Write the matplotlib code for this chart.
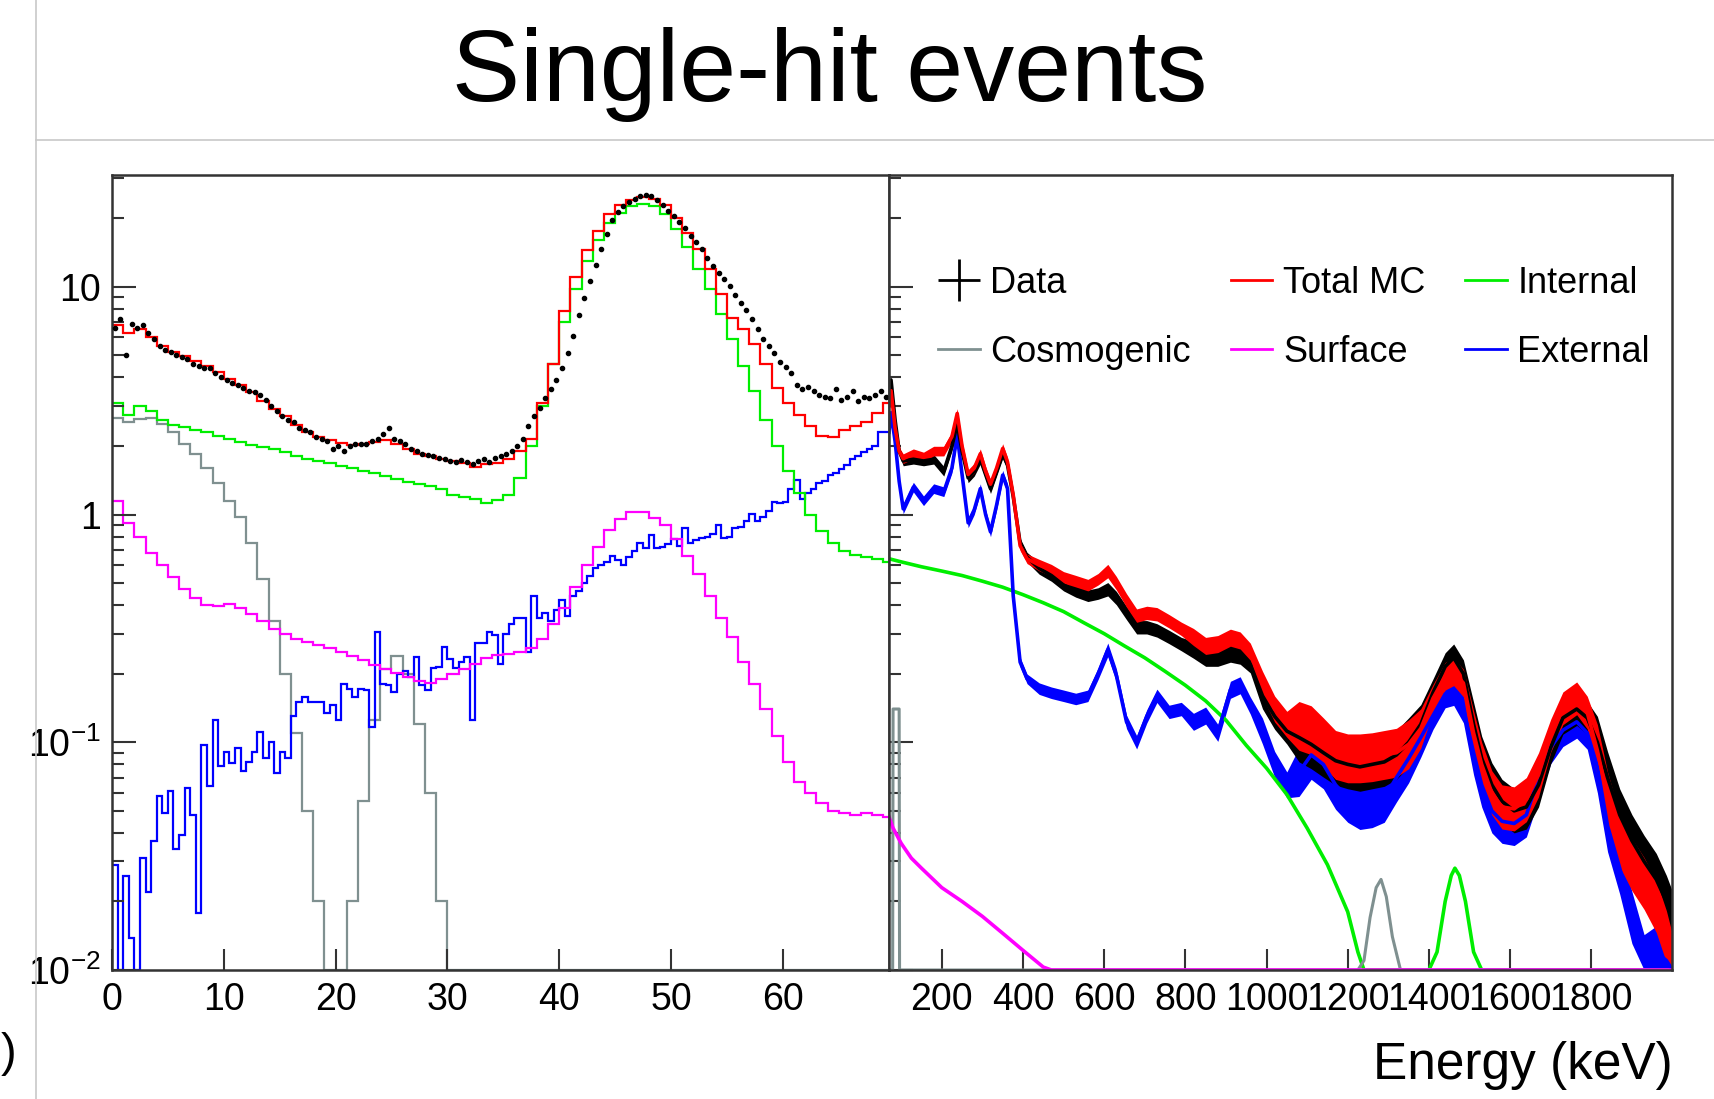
import numpy as np
import matplotlib
matplotlib.use("Agg")
import matplotlib.pyplot as plt
from matplotlib.lines import Line2D

plt.rcParams['font.family'] = ['Liberation Sans', 'DejaVu Sans']
plt.rcParams['mathtext.fontset'] = 'custom'
plt.rcParams['mathtext.rm'] = 'Liberation Sans'
plt.rcParams['mathtext.it'] = 'Liberation Sans:italic'
plt.rcParams['mathtext.default'] = 'regular'

YMIN, YMAX = 0.01, 31

# ---------------- left panel (0 - 69.5 keV) ----------------
# 1 keV bins: 0-1, 1-2, ..., 68-69, 69-69.5
total_mc_lo = [6.8, 6.3, 6.5, 6.0, 5.5, 5.2, 4.95, 4.75, 4.5, 4.25,
               3.95, 3.7, 3.45, 3.15, 2.92, 2.7, 2.48, 2.3, 2.2, 2.12,
               2.07, 2.02, 2.05, 2.09, 2.12, 2.05, 1.95, 1.85, 1.8, 1.76,
               1.72, 1.68, 1.62, 1.66, 1.68, 1.75, 1.9, 2.15, 3.1, 4.6,
               7.8, 11.0, 14.5, 17.6, 20.8, 23.0, 24.0, 24.7, 24.3, 23.0,
               20.0, 17.3, 14.6, 12.0, 9.3, 7.3, 6.5, 5.6, 4.6, 3.6,
               3.1, 2.75, 2.45, 2.22, 2.2, 2.35, 2.45, 2.55, 2.8, 3.1]
internal_lo = [3.1, 2.75, 3.0, 2.85, 2.6, 2.48, 2.42, 2.36, 2.3, 2.22,
               2.15, 2.08, 2.03, 1.98, 1.94, 1.88, 1.8, 1.76, 1.72, 1.68,
               1.64, 1.6, 1.56, 1.53, 1.48, 1.44, 1.39, 1.36, 1.33, 1.30,
               1.22, 1.2, 1.17, 1.13, 1.16, 1.22, 1.45, 2.0, 3.0, 4.6,
               7.0, 9.8, 13.0, 16.0, 19.0, 21.2, 22.6, 23.2, 22.6, 20.8,
               18.0, 15.0, 12.0, 9.8, 7.6, 5.9, 4.5, 3.5, 2.6, 2.0,
               1.55, 1.25, 1.0, 0.85, 0.75, 0.69, 0.665, 0.65, 0.635, 0.62]
cosmogenic_lo = [2.65, 2.55, 2.62, 2.65, 2.5, 2.3, 2.05, 1.85, 1.6, 1.38,
                 1.15, 0.98, 0.75, 0.52, 0.34, 0.2, 0.11, 0.05, 0.02, 0.0,
                 0.0, 0.02, 0.055, 0.125, 0.21, 0.24, 0.2, 0.12, 0.06, 0.02,
                 0, 0, 0, 0, 0, 0, 0, 0, 0, 0,
                 0, 0, 0, 0, 0, 0, 0, 0, 0, 0,
                 0, 0, 0, 0, 0, 0, 0, 0, 0, 0,
                 0, 0, 0, 0, 0, 0, 0, 0, 0, 0]
surface_lo = [1.15, 0.92, 0.8, 0.68, 0.6, 0.53, 0.47, 0.43, 0.4, 0.395,
              0.405, 0.39, 0.365, 0.34, 0.315, 0.3, 0.285, 0.275, 0.267, 0.26,
              0.25, 0.24, 0.23, 0.218, 0.21, 0.202, 0.193, 0.185, 0.182, 0.19,
              0.2, 0.21, 0.22, 0.235, 0.242, 0.245, 0.25, 0.26, 0.285, 0.33,
              0.39, 0.48, 0.6, 0.72, 0.86, 0.96, 1.03, 1.03, 0.97, 0.9,
              0.78, 0.66, 0.55, 0.44, 0.35, 0.29, 0.225, 0.18, 0.14, 0.107,
              0.082, 0.067, 0.06, 0.054, 0.05, 0.049, 0.048, 0.049, 0.048, 0.047]

# 0.5 keV bins, 0 - 69.5 keV
external_lo = [0.029, 0.0, 0.026, 0.0138, 0.0, 0.031, 0.022, 0.037, 0.058, 0.049,
               0.061, 0.034, 0.039, 0.063, 0.048, 0.0178, 0.097, 0.064, 0.125, 0.079,
               0.091, 0.081, 0.094, 0.075, 0.082, 0.091, 0.111, 0.085, 0.100, 0.073,
               0.091, 0.085, 0.131, 0.151, 0.158, 0.151, 0.151, 0.151, 0.134, 0.146,
               0.125, 0.181, 0.172, 0.158, 0.172, 0.17, 0.117, 0.305, 0.181, 0.178,
               0.167, 0.20, 0.205, 0.194, 0.237, 0.178, 0.17, 0.211, 0.215, 0.263,
               0.233, 0.211, 0.225, 0.237, 0.125, 0.272, 0.272, 0.305, 0.295, 0.22,
               0.3, 0.33, 0.35, 0.35, 0.25, 0.44, 0.35, 0.37, 0.34, 0.38,
               0.42, 0.36, 0.44, 0.46, 0.5, 0.54, 0.58, 0.6, 0.62, 0.66,
               0.63, 0.6, 0.65, 0.69, 0.75, 0.71, 0.81, 0.71, 0.72, 0.74,
               0.78, 0.73, 0.87, 0.75, 0.77, 0.79, 0.8, 0.82, 0.9, 0.79,
               0.8, 0.87, 0.88, 0.94, 1.01, 0.94, 0.98, 1.04, 1.14, 1.12,
               1.14, 1.3, 1.42, 1.17, 1.25, 1.3, 1.37, 1.4, 1.49, 1.52,
               1.59, 1.65, 1.76, 1.8, 1.88, 1.95, 2.01, 2.31, 2.31]
data_lo = [6.6, 7.2, 5.0, 6.9, 6.6, 6.8, 6.3, 5.9, 5.5, 5.3,
           5.2, 5.0, 4.9, 4.8, 4.6, 4.5, 4.4, 4.4, 4.2, 4.0,
           3.9, 3.8, 3.7, 3.6, 3.5, 3.45, 3.35, 3.2, 3.0, 2.85,
           2.7, 2.6, 2.55, 2.4, 2.35, 2.3, 2.2, 2.15, 2.1, 1.95,
           2.0, 1.9, 2.0, 2.05, 2.05, 2.05, 2.1, 2.15, 2.25, 2.4,
           2.15, 2.1, 2.05, 1.95, 1.9, 1.85, 1.82, 1.8, 1.78, 1.75,
           1.72, 1.7, 1.74, 1.7, 1.66, 1.72, 1.75, 1.7, 1.78, 1.8,
           1.85, 1.9, 2.0, 2.15, 2.45, 2.7, 2.95, 3.25, 3.55, 3.9,
           4.4, 5.1, 6.1, 7.5, 8.9, 10.6, 12.5, 14.6, 17.0, 19.6,
           21.3, 22.6, 23.6, 24.4, 25.0, 25.2, 25.0, 24.0, 22.9, 21.6,
           20.4, 19.3, 18.2, 16.8, 15.7, 14.6, 13.4, 12.4, 11.5, 10.8,
           10.1, 9.2, 8.5, 7.9, 7.2, 6.5, 5.9, 5.5, 5.1, 4.7,
           4.45, 4.2, 3.7, 3.55, 3.65, 3.5, 3.35, 3.3, 3.25, 3.55,
           3.2, 3.3, 3.5, 3.15, 3.3, 3.25, 3.35, 3.5, 3.3]

# ---------------- right panel (70 - 2000 keV) ----------------
energy_hi = [70, 75, 85, 95, 105, 130, 155, 180, 205, 225,
             238, 250, 265, 280, 295, 308, 320, 335, 350, 362,
             376, 393, 410, 440, 470, 500, 530, 560, 585, 609,
             630, 655, 680, 705, 730, 760, 790, 820, 850, 880,
             911, 935, 960, 990, 1020, 1050, 1080, 1110, 1140, 1170,
             1200, 1230, 1260, 1290, 1320, 1350, 1380, 1410, 1440, 1461,
             1485, 1510, 1530, 1555, 1580, 1610, 1640, 1670, 1700, 1730,
             1764, 1790, 1815, 1840, 1870, 1900, 1930, 1960, 1985, 2000]
total_mc_hi = [3.0, 3.5, 2.4, 1.9, 1.76, 1.85, 1.79, 1.9, 1.9, 2.2,
               2.78, 2.0, 1.5, 1.6, 1.85, 1.55, 1.36, 1.6, 1.95, 1.7,
               1.22, 0.73, 0.64, 0.6, 0.57, 0.53, 0.51, 0.49, 0.52, 0.565,
               0.5, 0.42, 0.36, 0.37, 0.365, 0.34, 0.315, 0.29, 0.265, 0.27,
               0.288, 0.28, 0.25, 0.18, 0.14, 0.12, 0.118, 0.113, 0.1, 0.088,
               0.085, 0.085, 0.086, 0.088, 0.09, 0.098, 0.115, 0.156, 0.195, 0.204,
               0.182, 0.11, 0.08, 0.06, 0.052, 0.051, 0.056, 0.072, 0.107, 0.141,
               0.156, 0.135, 0.092, 0.057, 0.037, 0.029, 0.024, 0.019, 0.014, 0.011]
data_hi = [3.3, 3.9, 2.6, 1.9, 1.72, 1.75, 1.72, 1.75, 1.55, 2.0,
           2.5, 1.9, 1.45, 1.55, 1.75, 1.5, 1.3, 1.55, 1.85, 1.65,
           1.2, 0.75, 0.65, 0.58, 0.54, 0.49, 0.46, 0.44, 0.45, 0.47,
           0.43, 0.37, 0.32, 0.32, 0.31, 0.29, 0.27, 0.255, 0.235, 0.235,
           0.245, 0.24, 0.22, 0.16, 0.13, 0.112, 0.105, 0.098, 0.09, 0.083,
           0.08, 0.078, 0.08, 0.082, 0.088, 0.1, 0.12, 0.165, 0.215, 0.235,
           0.2, 0.12, 0.085, 0.065, 0.055, 0.05, 0.052, 0.065, 0.095, 0.128,
           0.14, 0.128, 0.1, 0.07, 0.048, 0.037, 0.03, 0.025, 0.02, 0.017]
external_hi = [2.3, 2.8, 2.1, 1.4, 1.06, 1.32, 1.15, 1.3, 1.26, 1.6,
               2.23, 1.5, 0.92, 1.05, 1.3, 1.0, 0.84, 1.1, 1.49, 1.3,
               0.44, 0.225, 0.19, 0.172, 0.165, 0.16, 0.155, 0.16, 0.2, 0.255,
               0.197, 0.123, 0.1, 0.13, 0.16, 0.136, 0.14, 0.123, 0.131, 0.11,
               0.17, 0.178, 0.145, 0.112, 0.08, 0.065, 0.074, 0.088, 0.08, 0.065,
               0.057, 0.053, 0.054, 0.057, 0.07, 0.085, 0.105, 0.131, 0.163, 0.167,
               0.14, 0.09, 0.065, 0.05, 0.045, 0.044, 0.048, 0.07, 0.095, 0.113,
               0.123, 0.11, 0.078, 0.043, 0.028, 0.017, 0.011, 0.012, 0.011, 0.01]
# bin-to-bin scatter of the fine-binned spectra, read as a fractional half-width
scatter_hi = [0.04, 0.04, 0.04, 0.04, 0.05, 0.05, 0.05, 0.05, 0.05, 0.05,
              0.05, 0.05, 0.05, 0.05, 0.05, 0.05, 0.05, 0.05, 0.05, 0.05,
              0.05, 0.05, 0.05, 0.06, 0.06, 0.06, 0.06, 0.06, 0.06, 0.07,
              0.07, 0.07, 0.07, 0.07, 0.07, 0.07, 0.07, 0.09, 0.09, 0.09,
              0.09, 0.09, 0.09, 0.14, 0.14, 0.14, 0.28, 0.28, 0.28, 0.28,
              0.28, 0.28, 0.28, 0.28, 0.28, 0.28, 0.22, 0.15, 0.15, 0.15,
              0.15, 0.25, 0.25, 0.25, 0.25, 0.25, 0.25, 0.25, 0.18, 0.18,
              0.18, 0.18, 0.30, 0.30, 0.30, 0.30, 0.30, 0.30, 0.30, 0.30]

internal_hi_E = [70, 100, 150, 200, 250, 300, 350, 400, 450, 500,
                 550, 600, 650, 700, 750, 800, 850, 900, 950, 1000,
                 1050, 1100, 1150, 1200, 1225, 1240, 1300, 1400, 1420, 1440,
                 1455, 1464, 1475, 1490, 1510, 1530, 1600, 2000]
internal_hi = [0.64, 0.62, 0.59, 0.565, 0.54, 0.51, 0.48, 0.445, 0.41, 0.375,
               0.335, 0.3, 0.265, 0.235, 0.205, 0.178, 0.152, 0.125, 0.097, 0.077,
               0.059, 0.042, 0.029, 0.018, 0.012, 0.008, 0.0, 0.008, 0.012, 0.02,
               0.026, 0.028, 0.026, 0.02, 0.012, 0.007, 0.0, 0.0]

cosmogenic_hi_E = [70, 79, 80, 95, 96, 1225, 1240, 1255, 1270, 1282, 1295, 1310, 1330, 2000]
cosmogenic_hi = [0, 0, 0.14, 0.14, 0, 0, 0.011, 0.017, 0.023, 0.025, 0.021, 0.014, 0, 0]

surface_hi_E = [70, 80, 100, 125, 150, 200, 250, 300, 350, 400, 450, 470, 2000]
surface_hi = [0.047, 0.042, 0.036, 0.031, 0.028, 0.023, 0.02, 0.0172, 0.0145, 0.0122,
              0.0103, 0.0095, 0.001]

RED, GREEN, BLUE = '#ff0000', '#00ee00', '#0000ff'
MAGENTA, GRAY = '#ff00ff', '#7f9090'
FRAME = '#333333'


def floor(v):
    # ROOT draws contents below the axis minimum on the frame
    return np.maximum(np.asarray(v, dtype=float), YMIN)


fig = plt.figure(figsize=(17.15, 10.99), dpi=100)
W, H = 1715.0, 1099.0
ax1 = fig.add_axes([112 / W, 1 - 970 / H, (889 - 112) / W, (970 - 175) / H])
ax2 = fig.add_axes([889 / W, 1 - 970 / H, (1672.5 - 889) / W, (970 - 175) / H])

edges1 = np.append(np.arange(0, 70, 1.0), 69.5)
edges05 = np.arange(0, 69.51, 0.5)
centers05 = edges05[:-1] + 0.25

lw = 1.6
ax1.stairs(floor(cosmogenic_lo), edges1, baseline=None, color=GRAY, lw=lw)
ax1.stairs(floor(external_lo), edges05, baseline=None, color=BLUE, lw=lw)
ax1.stairs(floor(internal_lo), edges1, baseline=None, color=GREEN, lw=lw)
ax1.stairs(floor(surface_lo), edges1, baseline=None, color=MAGENTA, lw=lw)
ax1.stairs(floor(total_mc_lo), edges1, baseline=None, color=RED, lw=lw)
ax1.plot(centers05, data_lo, 'o', color='k', ms=3.0, zorder=5)

ax2.plot(internal_hi_E, floor(internal_hi), color=GREEN, lw=2.6)
ax2.plot(cosmogenic_hi_E, floor(cosmogenic_hi), color=GRAY, lw=2.2)
sc = np.array(scatter_hi)
for vals, col, w in ((external_hi, BLUE, 2.6), (data_hi, 'k', 2.6), (total_mc_hi, RED, 2.6)):
    v = np.array(vals)
    ax2.fill_between(energy_hi, floor(v / (1 + sc)), floor(v * (1 + sc)),
                     color=col, lw=0)
    ax2.plot(energy_hi, floor(v), color=col, lw=w)
ax2.plot(surface_hi_E, floor(surface_hi), color=MAGENTA, lw=2.6)

for ax in (ax1, ax2):
    ax.set_yscale('log')
    ax.set_ylim(YMIN, YMAX)
    for s in ax.spines.values():
        s.set_color(FRAME)
        s.set_linewidth(1.8)
    ax.tick_params(axis='x', which='major', direction='in', length=15, width=1.5,
                   colors=FRAME, labelcolor='k', labelsize=27, pad=9, top=False)
    ax.tick_params(axis='x', which='minor', bottom=False, top=False)
    ax.tick_params(axis='y', which='major', direction='in', length=17, width=1.5,
                   colors=FRAME, labelcolor='k', labelsize=27, pad=8, right=False)
    ax.tick_params(axis='y', which='minor', direction='in', length=8.5, width=1.5,
                   colors=FRAME, right=False)

ax1.set_xlim(0, 69.5)
ax1.set_xticks([0, 10, 20, 30, 40, 50, 60])
ax1.set_yticks([0.01, 0.1, 1, 10])
ax1.set_yticklabels(['$10^{-2}$', '$10^{-1}$', '1', '10'])

ax2.set_xlim(70, 2000)
ax2.set_xticks([200, 400, 600, 800, 1000, 1200, 1400, 1600, 1800])
ax2.tick_params(axis='y', which='both', labelleft=False)

handles = [Line2D([], [], color='k', marker='+', ms=30, mew=2, ls='none'),
           Line2D([], [], color=GRAY, lw=2),
           Line2D([], [], color=RED, lw=2),
           Line2D([], [], color=MAGENTA, lw=2),
           Line2D([], [], color=GREEN, lw=2),
           Line2D([], [], color=BLUE, lw=2)]
labels = ['Data', 'Cosmogenic', 'Total MC', 'Surface', 'Internal', 'External']
ax2.legend(handles, labels, ncol=3, loc='upper left',
           bbox_to_anchor=(938 / W, 1 - 266 / H), bbox_transform=fig.transFigure,
           frameon=False, fontsize=26, handlelength=1.15, handletextpad=0.3,
           columnspacing=1.1, labelspacing=0.93, borderaxespad=0, borderpad=0)

fig.text(830 / W, 1 - 100.6 / H, 'Single-hit events', ha='center', va='baseline',
         fontsize=73.5)
fig.text(1673 / W, 1 - 1066 / H, 'Energy (keV)', ha='right', va='center', fontsize=37)
fig.text(1 / W, 1 - 1054 / H, ')', ha='left', va='center', fontsize=34)

fig.add_artist(Line2D([36 / W, 36 / W], [0, 1], color='#c8c8c8', lw=1.2))
fig.add_artist(Line2D([36 / W, 1], [1 - 140 / H, 1 - 140 / H], color='#c8c8c8', lw=1.2))

fig.savefig('out.png', dpi=100)
